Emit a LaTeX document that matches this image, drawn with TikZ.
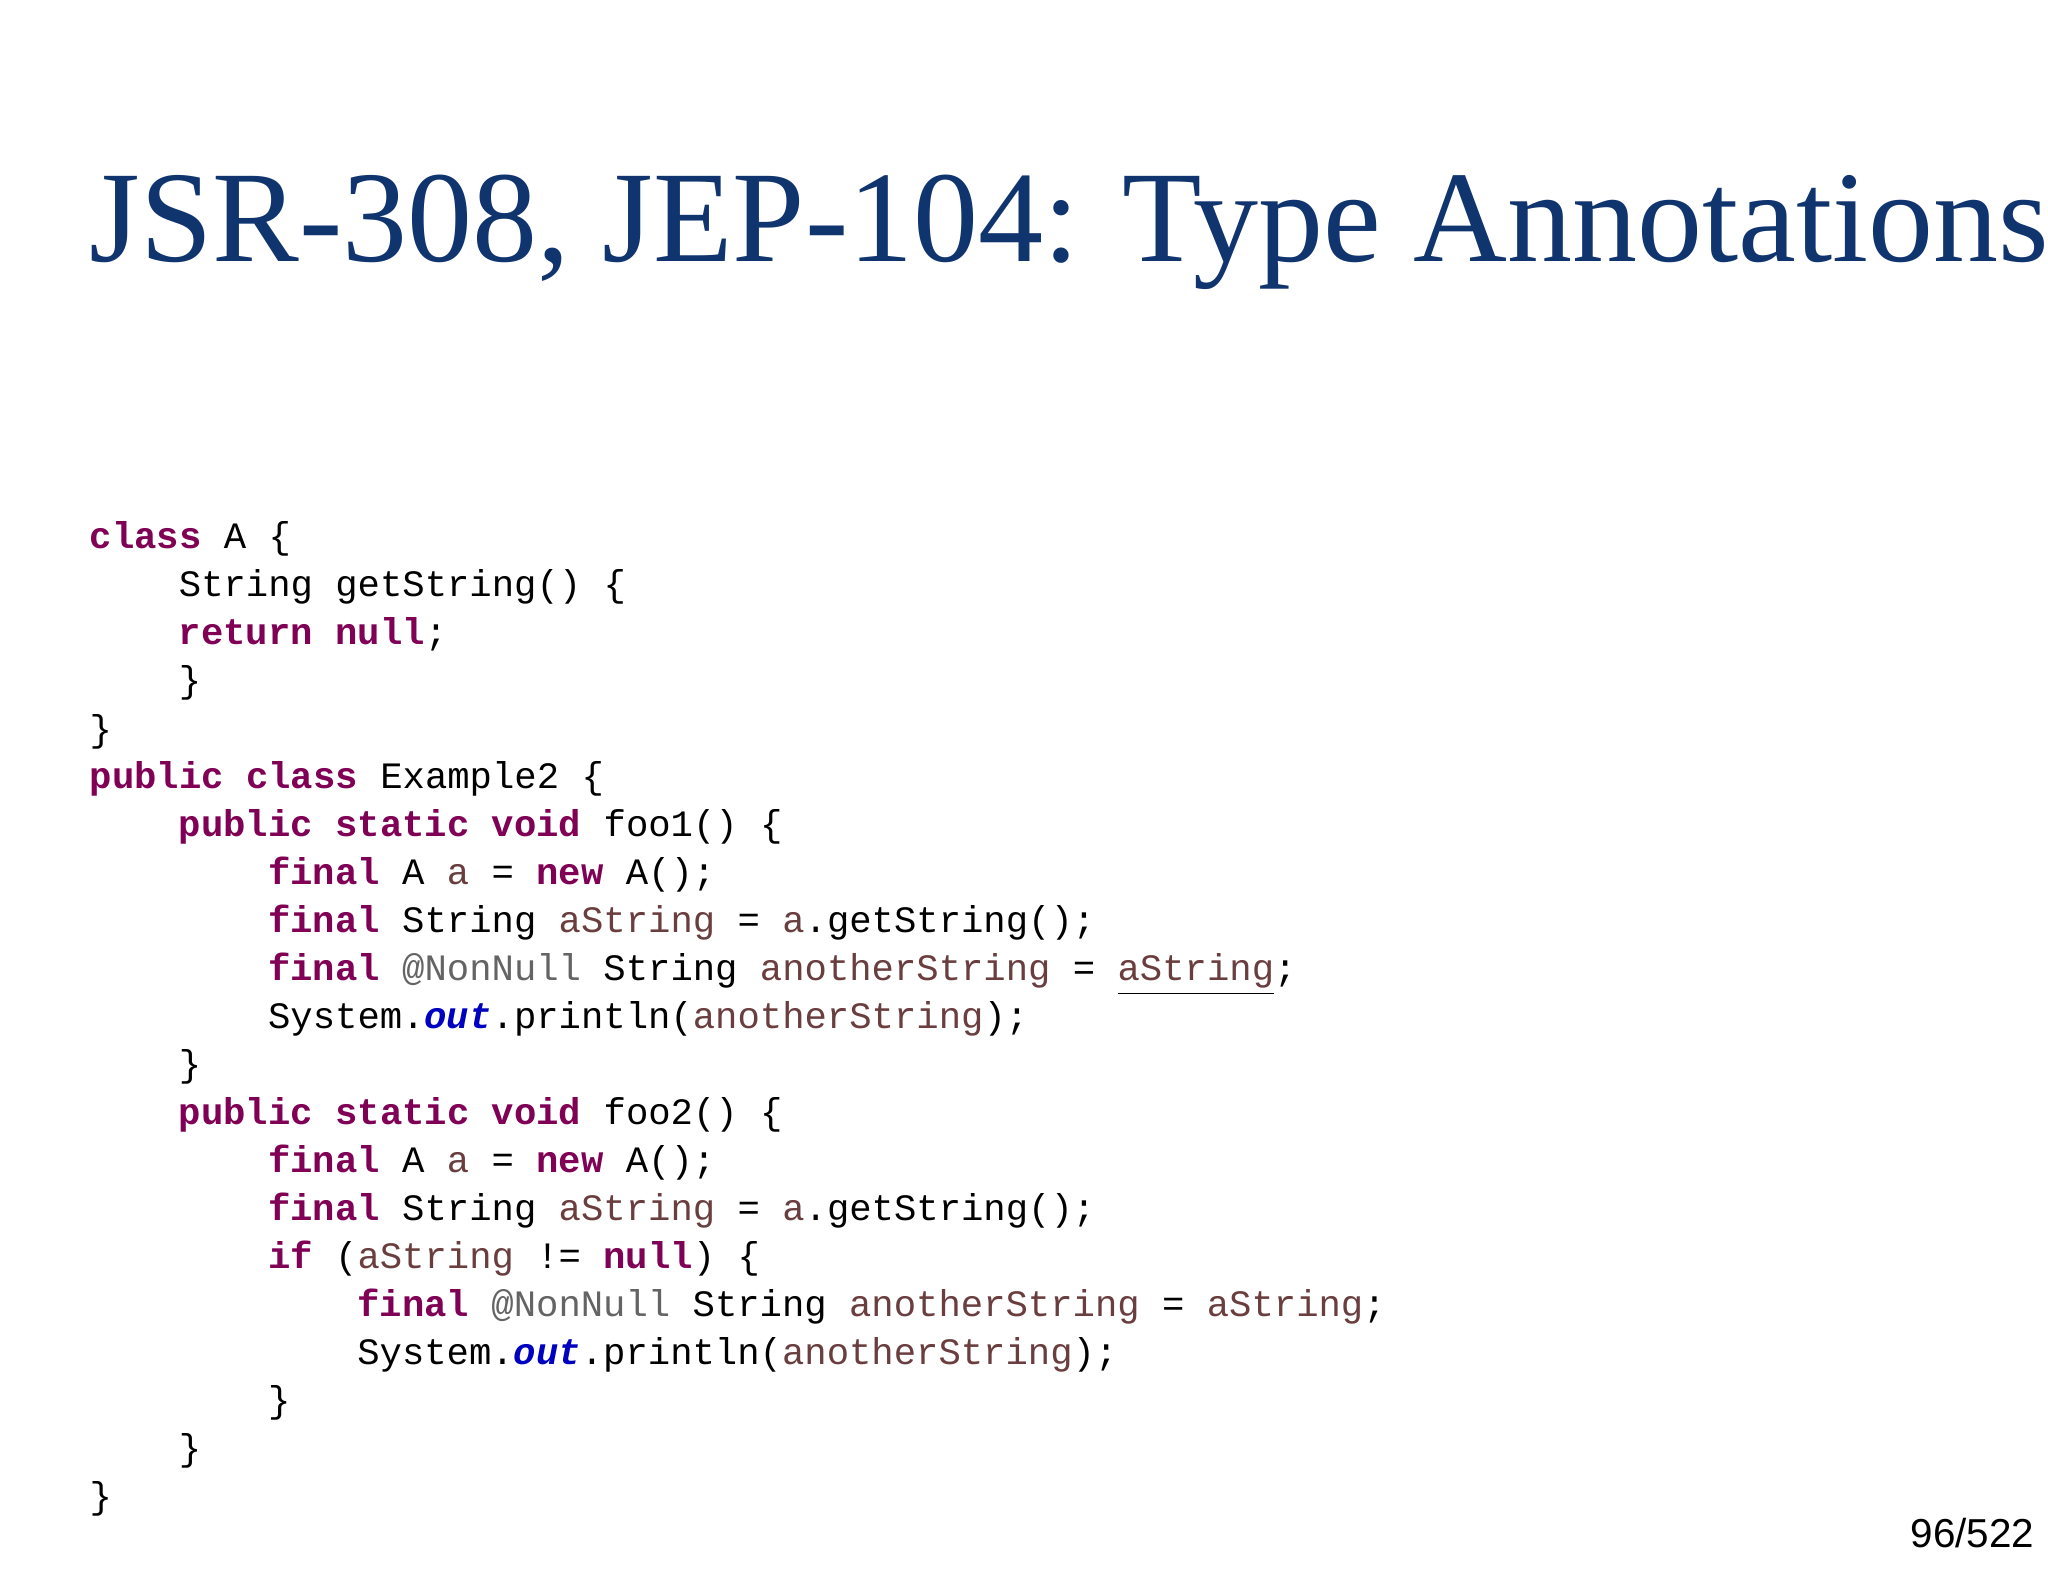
\documentclass[tikz,border=0pt]{standalone}
\usepackage{fontspec}
\setmainfont{Liberation Serif}
\setmonofont{Liberation Mono}
\setsansfont{Liberation Sans}
\definecolor{titleblue}{RGB}{16,52,110}
\definecolor{kwc}{RGB}{127,0,85}
\definecolor{varc}{RGB}{106,62,62}
\definecolor{annc}{RGB}{100,100,100}
\definecolor{fldc}{RGB}{0,0,192}
\newcommand{\kw}[1]{\textcolor{kwc}{\bfseries #1}}
\newcommand{\vr}[1]{\textcolor{varc}{#1}}
\newcommand{\an}[1]{\textcolor{annc}{#1}}
\newcommand{\fd}[1]{\textcolor{fldc}{\bfseries\itshape #1}}
\newcommand{\ul}[1]{\tikz[baseline=(u.base)]\node[inner sep=0pt,outer sep=0pt](u){#1};\tikz[overlay]\draw[varc,line width=0.6pt] (u.base west)++(0,-0.06) -- ($(u.base east)+(0,-0.06)$);}
\usetikzlibrary{calc}
\begin{document}
\begin{tikzpicture}[x=1cm,y=-1cm,
  codeline/.style={anchor=base west,inner sep=0pt,font=\ttfamily\fontsize{10.6}{12}\selectfont}]
\useasboundingbox (0,0) rectangle (20.48,15.82);
\fill[white] (0,0) rectangle (20.48,15.82);
\node[anchor=base west,inner sep=0pt,text=titleblue,font=\fontsize{37}{40}\selectfont] (title) at (0.89,2.62) {JSR-308, JEP-104: Type Annotations};
\def\ind{0.892}
\foreach \n/\lv/\txt in {
 0/0/{\kw{class} A \{},
 1/1/{String getString() \{},
 2/1/{\kw{return} \kw{null};},
 3/1/{\}},
 4/0/{\}},
 5/0/{\kw{public} \kw{class} Example2 \{},
 6/1/{\kw{public} \kw{static} \kw{void} foo1() \{},
 7/2/{\kw{final} A \vr{a} = \kw{new} A();},
 8/2/{\kw{final} String \vr{aString} = \vr{a}.getString();},
 9/2/{\kw{final} \an{@NonNull} String \vr{anotherString} = \underline{\vr{aString}};},
 10/2/{System.\fd{out}.println(\vr{anotherString});},
 11/1/{\}},
 12/1/{\kw{public} \kw{static} \kw{void} foo2() \{},
 13/2/{\kw{final} A \vr{a} = \kw{new} A();},
 14/2/{\kw{final} String \vr{aString} = \vr{a}.getString();},
 15/2/{\kw{if} (\vr{aString} != \kw{null}) \{},
 16/3/{\kw{final} \an{@NonNull} String \vr{anotherString} = \vr{aString};},
 17/3/{System.\fd{out}.println(\vr{anotherString});},
 18/2/{\}},
 19/1/{\}},
 20/0/{\}}}
 \node[codeline] (line\n) at ({0.89+\lv*\ind},{5.49+0.48*\n}) {\txt};
\node[anchor=base east,inner sep=0pt,font=\sffamily\fontsize{11.5}{13}\selectfont] (page) at (20.35,15.47) {96/522};
\end{tikzpicture}
\end{document}
